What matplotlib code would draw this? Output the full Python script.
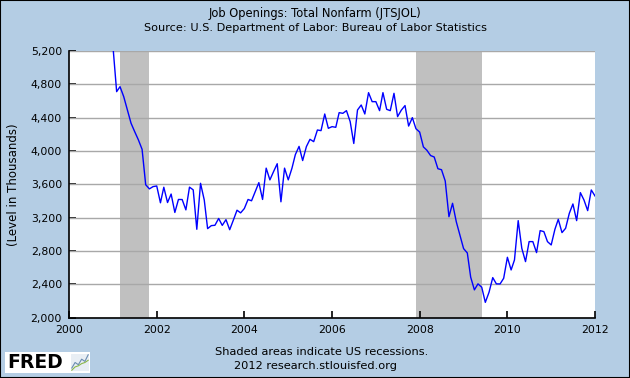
# Job Openings: Total Nonfarm (JTSJOL), FRED style chart

import pandas as pd
import matplotlib
matplotlib.use("Agg")
import matplotlib.pyplot as plt
import matplotlib.dates as mdates
from matplotlib.patches import Rectangle

# monthly values, Dec 2000 .. Jan 2012 (thousands)
start_month = "2000-12-01"
openings = [
    5300, 5260, 4712, 4772, 4652, 4493, 4333, 4233, 4134, 4020,
    3595, 3545, 3572, 3580, 3378, 3565, 3381, 3483, 3262, 3418,
    3417, 3293, 3566, 3533, 3060, 3612, 3412, 3068, 3104, 3108,
    3190, 3107, 3176, 3055, 3168, 3289, 3257, 3309, 3418, 3402,
    3511, 3620, 3418, 3794, 3653, 3754, 3847, 3390, 3794, 3653,
    3794, 3956, 4055, 3885, 4052, 4140, 4112, 4252, 4244, 4444,
    4272, 4292, 4284, 4460, 4452, 4484, 4352, 4090, 4492, 4552,
    4444, 4700, 4592, 4592, 4484, 4700, 4500, 4484, 4692, 4412,
    4490, 4545, 4299, 4400, 4267, 4227, 4049, 4009, 3945, 3928,
    3787, 3775, 3640, 3211, 3372, 3151, 2990, 2828, 2776, 2486,
    2333, 2405, 2365, 2183, 2304, 2480, 2405, 2404, 2472, 2724,
    2572, 2692, 3164, 2832, 2672, 2912, 2912, 2780, 3044, 3032,
    2912, 2872, 3060, 3180, 3020, 3072, 3252, 3364, 3164, 3500,
    3412, 3284, 3532, 3460,
]
recessions = [("2001-03-01", "2001-11-01"), ("2007-12-01", "2009-06-01")]
y_ticks = [2000, 2400, 2800, 3200, 3600, 4000, 4400, 4800, 5200]
x_years = [2000, 2002, 2004, 2006, 2008, 2010, 2012]

# little chart icon in the logo
logo_a = [1, 2, 1.6, 2.6, 2.2, 3.4]
logo_b = [0.6, 1.2, 1.4, 1.8, 2.0, 2.4]

dates = pd.date_range(start_month, periods=len(openings), freq="MS")

BG = "#B4CDE4"
fig = plt.figure(figsize=(6.3, 3.78), dpi=100, facecolor=BG)
ax = fig.add_axes([69 / 630, 1 - 317.6 / 378, (595 - 69) / 630, (317.6 - 51) / 378])
ax.set_facecolor("white")

for a, b in recessions:
    ax.axvspan(pd.Timestamp(a), pd.Timestamp(b), color="#C0C0C0", lw=0, zorder=1)

for v in y_ticks:
    ax.axhline(v, color="#A8A8A8", lw=1.0, zorder=2)

ax.plot(dates, openings, color="#0000FF", lw=1.0, zorder=3)

ax.set_xlim(pd.Timestamp("2000-01-01"), pd.Timestamp("2012-01-01"))
ax.set_ylim(2000, 5200)
ax.set_yticks(y_ticks)
ax.set_yticklabels([f"{v:,}" for v in y_ticks])
ax.set_xticks([pd.Timestamp(f"{y}-01-01") for y in x_years])
ax.xaxis.set_major_formatter(mdates.DateFormatter("%Y"))

for s in ["top", "right"]:
    ax.spines[s].set_visible(False)
for s in ["left", "bottom"]:
    ax.spines[s].set_color("black")
    ax.spines[s].set_linewidth(1.2)
    ax.spines[s].set_zorder(4)

ax.tick_params(axis="both", direction="in", length=5, width=1.2, color="black",
               labelsize=7.8, labelcolor="black")
ax.tick_params(axis="y", pad=5)
ax.tick_params(axis="x", pad=5)

fig.text(0.5, 1 - 13 / 378, "Job Openings: Total Nonfarm (JTSJOL)",
         ha="center", va="center", fontsize=8.3)
fig.text(0.5, 1 - 28 / 378, "Source: U.S. Department of Labor: Bureau of Labor Statistics",
         ha="center", va="center", fontsize=8.1)
fig.text(14 / 630, 1 - 185 / 378, "(Level in Thousands)", rotation=90,
         ha="center", va="center", fontsize=8.5)
fig.text(322 / 630, 1 - 352 / 378, "Shaded areas indicate US recessions.",
         ha="center", va="center", fontsize=8.2)
fig.text(316 / 630, 1 - 366 / 378, "2012 research.stlouisfed.org",
         ha="center", va="center", fontsize=8.2)

# FRED logo
fig.patches.append(Rectangle((5 / 630, 5 / 378), 85 / 630, 21 / 378,
                             transform=fig.transFigure, facecolor="white",
                             edgecolor="none", zorder=-1))
fig.text(7 / 630, 1 - 363 / 378, "FRED", ha="left", va="center",
         fontsize=13.5, fontweight="bold", color="black")
icon = fig.add_axes([71 / 630, 7 / 378, 18 / 630, 17 / 378], zorder=5)
icon.set_facecolor("#E8EEF4")
icon.plot(range(len(logo_a)), logo_a, color="#6A8CB0", lw=0.8)
icon.plot(range(len(logo_b)), logo_b, color="#8CB84A", lw=0.8)
icon.set_xticks([])
icon.set_yticks([])
for s in icon.spines.values():
    s.set_visible(False)

# thin dark frame around the whole image
fig.patches.append(Rectangle((0, 0), 1, 1, transform=fig.transFigure,
                             facecolor="none", edgecolor="black", lw=1.5))

fig.savefig("out.png", dpi=100, facecolor=BG)
